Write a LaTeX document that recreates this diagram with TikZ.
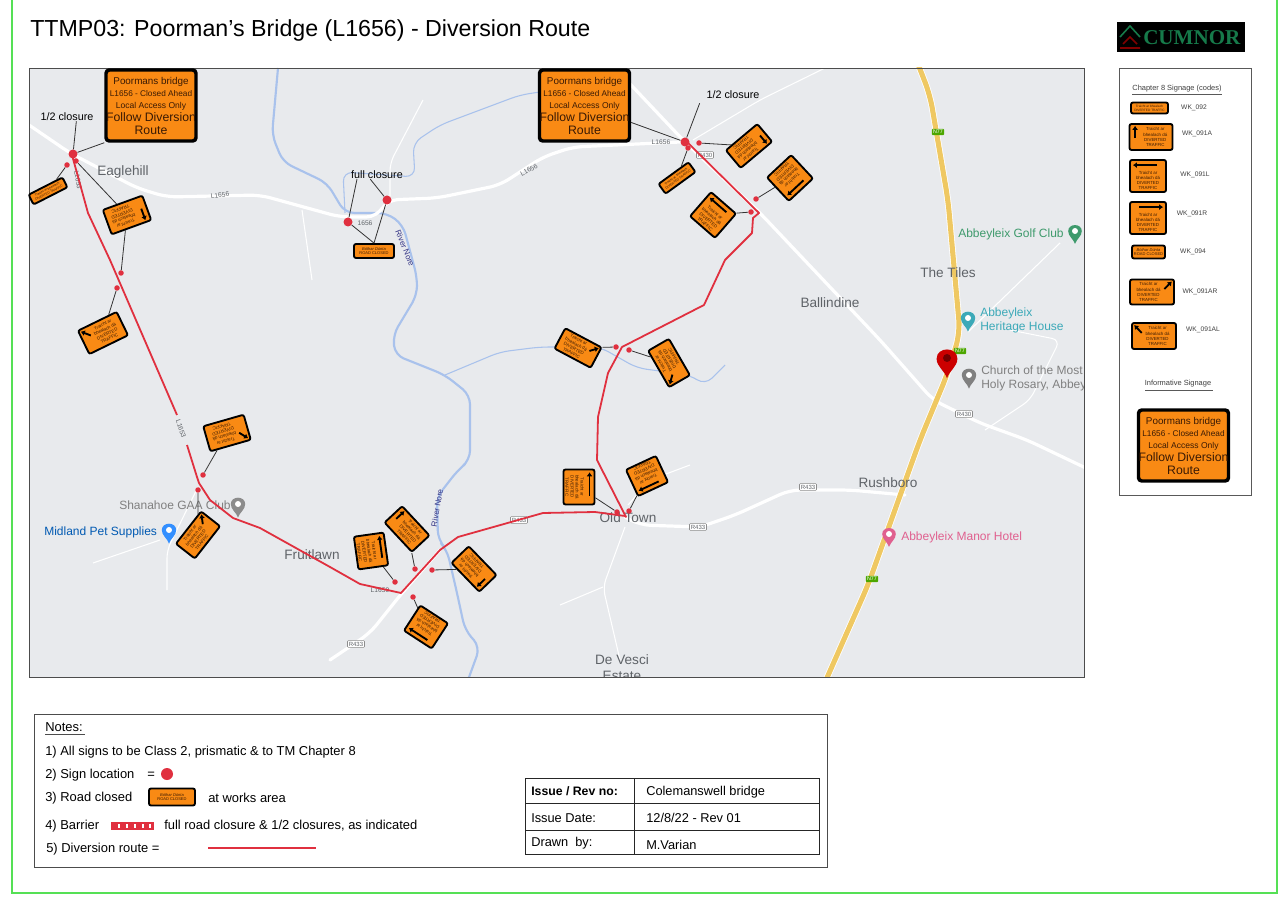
\documentclass[tikz,border=0pt]{standalone}
\usepackage{fontspec}
\setmainfont{Liberation Sans}
\newfontfamily\logofont{Liberation Serif}
\usetikzlibrary{calc,arrows.meta}

\definecolor{mapgrey}{HTML}{E8EAED}
\definecolor{signorange}{HTML}{F98A14}
\definecolor{signink}{HTML}{3A1A04}
\definecolor{routered}{HTML}{E0303F}
\definecolor{riverblue}{HTML}{A9C2EC}
\definecolor{placegrey}{HTML}{5F6368}
\definecolor{motorway}{HTML}{EFC862}
\definecolor{framegreen}{HTML}{55E055}
\definecolor{logogreen}{HTML}{167A4A}
\definecolor{golfgreen}{HTML}{3E9A6C}
\definecolor{heritageteal}{HTML}{3CA9B8}
\definecolor{manorpink}{HTML}{E0608F}

\tikzset{
	signbox/.style={draw=black,line width=1.4pt,fill=signorange,rounded corners=1.5pt,inner sep=0pt},
	signtext/.style={text=signink,align=center,inner sep=0pt,font=\fontsize{3.3}{3.8}\selectfont},
	signarrow/.style={black,line width=1.4pt,-{Latex[length=3pt,width=4.4pt]}},
	signdot/.style={circle,fill=routered,inner sep=0pt,minimum size=5.5*0.75pt},
	closure/.style={circle,fill=routered,inner sep=0pt,minimum size=9*0.75pt},
	leader/.style={draw=black!80,line width=0.6pt},
	route/.style={routered,line width=1.35pt,line join=round},
	road/.style={white,line width=2.4pt,rounded corners=8pt,line cap=round},
	lane/.style={white,line width=0.8pt,rounded corners=6pt},
	river/.style={riverblue,line width=1.6pt,rounded corners=7pt},
	place/.style={text=placegrey,inner sep=0pt,font=\fontsize{10.2}{11}\selectfont},
	poi/.style={inner sep=0pt,anchor=west,align=left,font=\fontsize{9}{10.5}\selectfont},
	roadno/.style={text=placegrey,inner sep=0pt,font=\fontsize{5}{6}\selectfont},
	shield/.style={draw=black!45,fill=white,text=placegrey,line width=0.4pt,rounded corners=0.8pt,inner sep=1pt,font=\fontsize{4.5}{5}\selectfont},
	mshield/.style={fill=green!50!black!70!yellow,text=white,rounded corners=0.8pt,inner sep=1pt,font=\fontsize{4}{5}\selectfont},
	plain/.style={inner sep=0pt,anchor=west,font=\fontsize{9.7}{11}\selectfont},
	tabletext/.style={inner sep=0pt,anchor=west,font=\fontsize{9.6}{11}\selectfont},
	legendcode/.style={inner sep=0pt,text=black!75,font=\fontsize{5}{6}\selectfont},
	legendhead/.style={inner sep=0pt,text=black!75,font=\fontsize{5.6}{7}\selectfont},
	callout/.style={inner sep=0pt,font=\fontsize{8.1}{9}\selectfont},
}

\newcommand{\divtext}{Traicht ar\\bhealach dá\\DIVERTED\\TRAFFIC}
\newcommand{\arrowA}[3]{\draw[signarrow] ({-0.37*#2},{-0.04*#3}) -- ({-0.37*#2},{0.43*#3});
	\node[signtext] (#1t) at ({0.1*#2},0) {\divtext};}
\newcommand{\arrowL}[3]{\draw[signarrow] ({0.25*#2},{0.34*#3}) -- ({-0.42*#2},{0.34*#3});
	\node[signtext] (#1t) at (0,{-0.14*#3}) {\divtext};}
\newcommand{\arrowR}[3]{\draw[signarrow] ({-0.25*#2},{0.34*#3}) -- ({0.42*#2},{0.34*#3});
	\node[signtext] (#1t) at (0,{-0.14*#3}) {\divtext};}
\newcommand{\arrowAR}[3]{\draw[signarrow] ({0.28*#2},{0.12*#3}) -- ({0.45*#2},{0.42*#3});
	\node[signtext] (#1t) at ({-0.08*#2},0) {\divtext};}
\newcommand{\arrowAL}[3]{\draw[signarrow] ({-0.28*#2},{0.12*#3}) -- ({-0.45*#2},{0.42*#3});
	\node[signtext] (#1t) at ({0.08*#2},0) {\divtext};}
\newcommand{\arrowS}[3]{\node[signtext,font=\fontsize{2.4}{2.9}\selectfont] (#1t) at (0,0) {Traicht ar bhealach\\DIVERTED TRAFFIC};}
\newcommand{\arrowC}[3]{\node[signtext,font=\fontsize{3}{3.6}\selectfont] (#1t) at (0,0) {\textit{Bóthar Dúnta}\\ROAD CLOSED};}

% name, centre, rotation, width, height, arrow
\newcommand{\trafficsign}[6]{
	\begin{scope}[shift={#2},yscale=-1,rotate=#3,transform shape]
		\node[signbox,minimum width=#4*0.75pt,minimum height=#5*0.75pt] (#1) at (0,0) {};
		\csname arrow#6\endcsname{#1}{#4}{#5}
	\end{scope}}

\newcommand{\bigsign}[2]{
	\begin{scope}[shift={#2}]
		\node[signbox,line width=2.6pt,rounded corners=2.5pt,minimum width=90*0.75pt,minimum height=71*0.75pt] (#1) at (0,0) {};
		\node[text=signink,inner sep=0pt,font=\fontsize{7.4}{8}\selectfont] (#1a) at (0,-24) {Poormans bridge};
		\node[text=signink,inner sep=0pt,font=\fontsize{6.2}{7}\selectfont] (#1b) at (0,-11.5) {L1656 - Closed Ahead};
		\node[text=signink,inner sep=0pt,font=\fontsize{6.4}{7}\selectfont] (#1c) at (0,0.5) {Local Access Only};
		\node[text=signink,inner sep=0pt,font=\fontsize{9.2}{10}\selectfont] (#1d) at (0,12) {Follow Diversion};
		\node[text=signink,inner sep=0pt,font=\fontsize{9.2}{10}\selectfont] (#1e) at (0,25) {Route};
	\end{scope}}

% centre of head, colour, size
\newcommand{\mappin}[3]{
	\begin{scope}[shift={#1},scale=#3]
		\fill[#2] (0,14) .. controls (-2,8) and (-8,5) .. (-8,-1) .. controls (-8,-10.5) and (8,-10.5) .. (8,-1) .. controls (8,5) and (2,8) .. (0,14);
	\end{scope}}

\begin{document}
\begin{tikzpicture}[x=0.75pt,y=0.75pt,yscale=-1,xscale=1]
		\useasboundingbox (0,0) rectangle (1282,898);
		\fill[white] (0,0) rectangle (1282,898);
		\draw[framegreen,line width=1.3pt] (12,-6) rectangle (1277,893);

		\node[inner sep=0pt,anchor=west,font=\fontsize{17.4}{19}\selectfont] (title) at (30,31) {TTMP03: Poorman's Bridge (L1656) - Diversion Route};

		% logo
		\fill[black] (1117,22) rectangle (1245,52);
		\draw[logogreen,line width=1.2pt] (1120,37) -- (1130,26) -- (1140,37);
		\draw[red!50!black,line width=1.2pt] (1123,44) -- (1130,37) -- (1137,44) (1120,48) -- (1140,48);
		\node[inner sep=0pt,anchor=west,text=logogreen,font=\logofont\bfseries\fontsize{15.8}{17}\selectfont] (logo) at (1143,38) {CUMNOR};

		% map
		\begin{scope}
			\clip (29,68) rectangle (1084,677);
			\fill[mapgrey] (29,68) rectangle (1084,677);

			% rivers
			\draw[river] (278,68) -- (272,135) -- (283,162) -- (327,183) -- (345,213) -- (387,213) -- (403,225) -- (417,277) -- (417,295) -- (393,335) -- (395,355) -- (445,375) -- (470,395) -- (470,460) -- (458,470) -- (437,497) -- (438,540) -- (447,550) -- (457,593) -- (465,630) -- (480,647) -- (468,680);
			\draw[river,line width=0.8pt] (445,375) -- (500,352) -- (540,347) -- (600,347) -- (637,368) -- (690,375) -- (705,385) -- (725,365);
			\draw[river,line width=0.8pt] (345,213) -- (343,172) -- (415,177) -- (413,143) -- (440,125) -- (520,95) -- (540,92);

			% roads
			\draw[lane] (693,140) -- (760,100) -- (825,68);
			\draw[lane] (625,527) -- (603,587) -- (620,660);
			\draw[lane] (603,587) -- (560,605);
			\draw[lane] (302,210) -- (312,280);
			\draw[lane] (423,100) -- (390,163) -- (390,197);
			\draw[lane] (198,487) -- (167,550) -- (167,590);
			\draw[lane] (93,563) -- (160,540);
			\draw[lane] (1060,243) -- (968,332);
			\draw[lane] (628,505) -- (650,480) -- (690,465);
			\draw[lane] (1010,330) -- (1060,340) -- (1030,400) -- (985,430);
			\draw[road] (29,125) -- (70,153) -- (137,188) -- (167,197) -- (260,195) -- (340,217) -- (377,217) -- (387,200) -- (437,198) -- (500,185) -- (543,157) -- (573,147) -- (680,142);
			\draw[road] (615,68) -- (683,140) -- (760,213) -- (880,340) -- (933,400) -- (980,423) -- (1027,440) -- (1090,470);
			\draw[road] (330,660) -- (370,633) -- (402,593) -- (440,550);
			\draw[road] (625,517) -- (640,525) -- (700,527) -- (735,515) -- (790,490) -- (850,490) -- (905,495);
			\draw[white,line width=5pt,rounded corners=10pt] (918,64) -- (930,95) -- (948,200) -- (960,333) -- (947,375) -- (920,440) -- (868,585) -- (826,680);
			\draw[motorway,line width=3.8pt,rounded corners=10pt] (918,64) -- (930,95) -- (948,200) -- (960,333) -- (947,375) -- (920,440) -- (868,585) -- (826,680);

			% map labels
			\node[place] (eaglehill) at (123,172) {Eaglehill};
			\node[place] (fruitlawn) at (312,555) {Fruitlawn};
			\node[place] (oldtown) at (628,518) {Old Town};
			\node[place] (rushboro) at (888,483) {Rushboro};
			\node[place] (ballindine) at (830,303) {Ballindine};
			\node[place] (tiles) at (948,273) {The Tiles};
			\node[place] (vesci) at (622,660) {De Vesci};
			\node[place] (estate) at (622,676) {Estate};
			\node[poi,text=black!50] (shanahoe) at (119,505) {Shanahoe GAA Club};
			\node[poi,text=blue!50!cyan!70!black] (midland) at (44,532) {Midland Pet Supplies};
			\node[poi,text=golfgreen] (golf) at (958,234) {Abbeyleix Golf Club};
			\node[poi,text=heritageteal] (heritage) at (980,320) {Abbeyleix\\Heritage House};
			\node[poi,text=black!50] (church) at (981,378) {Church of the Most\\Holy Rosary, Abbeyleix};
			\node[poi,text=manorpink] (manor) at (901,537) {Abbeyleix Manor Hotel};

			\node[roadno,rotate=8] (labela) at (220,195) {L1656};
			\node[roadno,rotate=27] (labelb) at (529,170) {L1656};
			\node[roadno] (labelc) at (661,142) {L1656};
			\node[roadno] (labeld) at (365,223) {1656};
			\node[roadno,rotate=-80] (labele) at (78,180) {L1653};
			\node[roadno,rotate=-72] (labelf) at (181,429) {L1653};
			\node[roadno] (labelg) at (380,590) {L1659};
			\node[place,font=\fontsize{6}{7}\selectfont,rotate=-68,text=blue!40!black!80] (norea) at (405,248) {River Nore};
			\node[place,font=\fontsize{6}{7}\selectfont,rotate=80,text=blue!40!black!80] (noreb) at (437,508) {River Nore};
			\node[shield] (rb) at (519,520) {R433};
			\node[shield] (rc) at (698,527) {R433};
			\node[shield] (rd) at (808,487) {R433};
			\node[shield] (re) at (356,644) {R433};
			\node[shield] (rf) at (705,155) {R430};
			\node[shield] (rg) at (964,414) {R430};
			\node[mshield] (na) at (938,132) {N77};
			\node[mshield] (nb) at (960,351) {N77};
			\node[mshield] (nc) at (872,579) {N77};

			% pins
			\mappin{(1075,232)}{golfgreen}{0.85}
			\mappin{(968,319)}{heritageteal}{0.9}
			\mappin{(969,376)}{black!50}{0.9}
			\mappin{(238,505)}{black!45}{0.9}
			\mappin{(169,531)}{blue!55!cyan!80}{0.9}
			\mappin{(889,535)}{manorpink}{0.85}
			\mappin{(947,360)}{red!80!black}{1.3}
			\fill[red!45!black] (947,358) circle (4);
			\fill[white] (1075,231) circle (3) (968,318) circle (3) (969,375) circle (3) (238,504) circle (3) (169,530) circle (3) (889,534) circle (3);
		\end{scope}
		\draw[black!70,line width=0.6pt] (29,68) rectangle (1084,677);

		% diversion route
		\draw[route] (72,155) -- (88,213) -- (110,260) -- (177,415);
		\draw[route] (187,445) -- (197,477) -- (199,483) -- (210,500) -- (233,518) -- (260,528) -- (330,567) -- (360,584) -- (401,593) -- (440,550) -- (458,537) -- (543,513) -- (595,512) -- (625,516);
		\draw[route] (685,140) -- (759,213) -- (753,218) -- (752,233) -- (725,260) -- (704,305) -- (622,347) -- (608,373) -- (598,417) -- (597,460) -- (626,517) -- (625,516);

		% sign locations
		\foreach \n/\p in {dota/{(67,165)},dotb/{(76,161)},dotc/{(121,273)},dotd/{(117,288)},dote/{(203,475)},dotf/{(198,490)},dotg/{(395,582)},doth/{(415,569)},doti/{(432,570)},dotj/{(413,597)},dotk/{(617,512)},dotl/{(629,511)},dotm/{(616,347)},dotn/{(629,350)},doto/{(688,148)},dotp/{(699,143)},dotq/{(756,199)},dotr/{(751,212)}}
			\node[signdot] (\n) at \p {};
		\foreach \n/\p in {barra/{(73,154)},barrb/{(685,142)},barrc/{(348,222)},barrd/{(387,200)}}
			\node[closure] (\n) at \p {};

		% signs
		\bigsign{biga}{(151,105.5)}
		\bigsign{bigb}{(584.5,105.5)}
		\trafficsign{sa}{(48,191)}{27}{38}{11}{S}
		\trafficsign{sb}{(127,215)}{200}{42}{26}{A}
		\trafficsign{sc}{(103,333)}{26}{43}{26}{AL}
		\trafficsign{sd}{(227,433)}{196}{42}{26}{AL}
		\trafficsign{se}{(198,535)}{52}{41}{24}{AR}
		\trafficsign{sf}{(371,551)}{-82}{33}{30}{L}
		\trafficsign{sg}{(407,529)}{-47}{40}{24}{A}
		\trafficsign{sh}{(474,569)}{134}{40}{24}{A}
		\trafficsign{si}{(426,627)}{147}{33}{30}{R}
		\trafficsign{sj}{(579,487)}{-90}{35}{31}{L}
		\trafficsign{sk}{(647,476)}{205}{33}{29}{R}
		\trafficsign{sl}{(578,348)}{-28}{41}{23}{AR}
		\trafficsign{sm}{(669,363)}{120}{42}{24}{AL}
		\trafficsign{sn}{(713,215)}{-41}{33}{32}{L}
		\trafficsign{so}{(790,178)}{223}{33}{32}{R}
		\trafficsign{sp}{(749,146)}{220}{41}{23}{A}
		\trafficsign{sq}{(677,178)}{36}{37}{12}{S}
		\trafficsign{sr}{(374,251)}{0}{40}{14}{C}

		% callouts
		\node[callout] (halfa) at (67,117) {1/2 closure};
		\node[callout] (halfb) at (733,95) {1/2 closure};
		\node[callout] (fullc) at (377,175) {full closure};

		\draw[leader] (biga.south west) -- (barra);
		\draw[leader] ([xshift=7]halfa.south) -- (barra);
		\draw[leader] (sa) -- (dota);
		\draw[leader] (sb) -- (dotb);
		\draw[leader] (sb) -- (dotc);
		\draw[leader] (sc) -- (dotd);
		\draw[leader] (sd) -- (dote);
		\draw[leader] (se) -- (dotf);
		\draw[leader] (sf) -- (dotg);
		\draw[leader] (sg) -- (doth);
		\draw[leader] (sh) -- (doti);
		\draw[leader] (si) -- (dotj);
		\draw[leader] (sj) -- (dotk);
		\draw[leader] (sk) -- (dotl);
		\draw[leader] (sl) -- (dotm);
		\draw[leader] (sm) -- (dotn);
		\draw[leader] (sn) -- (dotr);
		\draw[leader] (so) -- (dotq);
		\draw[leader] (sp) -- (dotp);
		\draw[leader] (sq) -- (doto);
		\draw[leader] (bigb) -- (barrb);
		\draw[leader] ([xshift=-25,yshift=3]halfb.south) -- (barrb);
		\draw[leader] ([xshift=-15]fullc.south) -- (barrc);
		\draw[leader] ([xshift=-5]fullc.south) -- (barrd);
		\draw[leader] (sr.north) -- (barrc);
		\draw[leader] (sr.north) -- (barrd);

		% signage legend
		\draw[black!65,line width=0.6pt,fill=white] (1119,68) rectangle (1251,495);
		\node[legendhead] (legendtop) at (1177,89) {Chapter 8 Signage (codes)};
		\draw[black!65,line width=0.4pt] (1132,94) -- (1222,94);
		\trafficsign{wa}{(1149.5,108)}{0}{37}{11}{S}
		\trafficsign{wb}{(1151,137)}{0}{43}{26}{A}
		\trafficsign{wc}{(1148,176)}{0}{36}{32}{L}
		\trafficsign{wd}{(1148,218)}{0}{36}{32}{R}
		\trafficsign{we}{(1148.5,252)}{0}{33}{13}{C}
		\trafficsign{wf}{(1152,292)}{0}{44}{25}{AR}
		\trafficsign{wg}{(1154,336)}{0}{44}{26}{AL}
		\node[legendcode] (codea) at (1194,108) {WK\_092};
		\node[legendcode] (codeb) at (1197,134) {WK\_091A};
		\node[legendcode] (codec) at (1195,175) {WK\_091L};
		\node[legendcode] (coded) at (1192,214) {WK\_091R};
		\node[legendcode] (codee) at (1193,252) {WK\_094};
		\node[legendcode] (codef) at (1200,292) {WK\_091AR};
		\node[legendcode] (codeg) at (1203,330) {WK\_091AL};
		\node[legendhead] (legendinfo) at (1178,384) {Informative Signage};
		\draw[black!65,line width=0.4pt] (1145,390) -- (1213,390);
		\bigsign{bigc}{(1183.5,445.5)}

		% notes
		\draw[black!70,line width=0.6pt] (34,714) rectangle (827,867);
		\node[plain] (notes) at (45,727) {Notes:};
		\draw[black!70,line width=0.4pt] (45,734) -- (85,734);
		\node[plain] (notea) at (45,752) {1) All signs to be Class 2, prismatic \& to TM Chapter 8};
		\node[plain] (noteb) at (45,775) {2) Sign location};
		\node[plain] (notebb) at (147,775) {=};
		\node[circle,fill=routered,inner sep=0pt,minimum size=12*0.75pt] (noted) at (167,774) {};
		\node[plain] (notec) at (45,798) {3) Road closed};
		\trafficsign{nr}{(172,797)}{0}{46}{17}{C}
		\node[plain] (notece) at (208,798) {at works area};
		\node[plain] (notee) at (45,826) {4) Barrier};
		\fill[routered] (111,822) rectangle (154,830);
		\foreach \xb in {118,126,134,142,149}
			\fill[white] (\xb,824) rectangle ++(2,4);
		\node[plain] (noteee) at (164,826) {full road closure \& 1/2 closures, as indicated};
		\node[plain] (notef) at (46,849) {5) Diversion route =};
		\coordinate (routea) at (208,848);
		\coordinate (routeb) at (316,848);
		\draw[route,line width=0.9pt] (routea) -- (routeb);

		% issue table
		\draw[black!85,line width=0.6pt] (525,778) rectangle (819,854);
		\draw[black!85,line width=0.6pt] (525,803) -- (819,803);
		\draw[black!85,line width=0.6pt] (525,830) -- (819,830);
		\draw[black!85,line width=0.6pt] (634,778) -- (634,854);
		\node[tabletext,font=\bfseries\fontsize{9.2}{11}\selectfont] (issueh) at (531,791) {Issue / Rev no:};
		\node[tabletext] (issued) at (531,818) {Issue Date:};
		\node[tabletext] (issuee) at (531,843) {Drawn\ \ by:};
		\node[tabletext] (issuea) at (646,792) {Colemanswell bridge};
		\node[tabletext] (issueb) at (646,818) {12/8/22 - Rev 01};
		\node[tabletext] (issuec) at (646,845) {M.Varian};
\end{tikzpicture}
\end{document}
